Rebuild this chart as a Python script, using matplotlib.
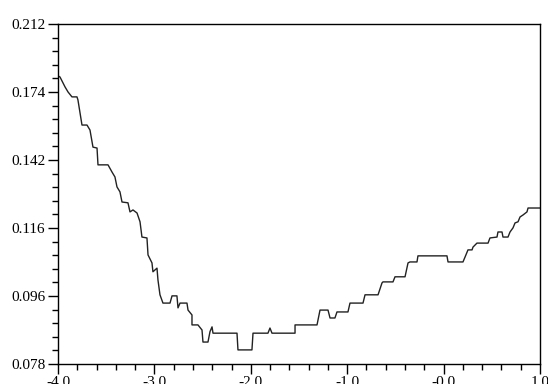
import numpy as np
import matplotlib
matplotlib.use("Agg")
import matplotlib.pyplot as plt
from matplotlib.ticker import FixedLocator, NullFormatter

# data
log_lambda = [-4.000, -3.979, -3.927, -3.896, -3.855, -3.803, -3.793, -3.751, -3.699, -3.668,
              -3.637, -3.595, -3.585, -3.481, -3.440, -3.409, -3.388, -3.357, -3.336, -3.274,
              -3.253, -3.222, -3.180, -3.149, -3.129, -3.077, -3.066, -3.025, -3.015, -2.973,
              -2.963, -2.942, -2.911, -2.838, -2.817, -2.766, -2.755, -2.734, -2.662, -2.651,
              -2.610, -2.610, -2.548, -2.506, -2.496, -2.444, -2.423, -2.402, -2.392, -2.143,
              -2.133, -1.988, -1.977, -1.822, -1.801, -1.780, -1.541, -1.541, -1.313, -1.282,
              -1.199, -1.178, -1.127, -1.106, -0.992, -0.971, -0.836, -0.815, -0.680, -0.639,
              -0.629, -0.525, -0.504, -0.400, -0.369, -0.349, -0.276, -0.266, 0.035, 0.046,
              0.201, 0.222, 0.253, 0.295, 0.305, 0.346, 0.461, 0.481, 0.554, 0.564,
              0.606, 0.616, 0.668, 0.689, 0.720, 0.741, 0.772, 0.793, 0.824, 0.865,
              0.876, 1.000]
error = [0.1820, 0.1814, 0.1762, 0.1736, 0.1711, 0.1711, 0.1696, 0.1575, 0.1575, 0.1552,
         0.1476, 0.1472, 0.1401, 0.1401, 0.1372, 0.1352, 0.1313, 0.1294, 0.1256, 0.1253,
         0.1220, 0.1227, 0.1216, 0.1185, 0.1133, 0.1130, 0.1075, 0.1050, 0.1023, 0.1034,
         0.0999, 0.0956, 0.0933, 0.0933, 0.0953, 0.0953, 0.0920, 0.0933, 0.0933, 0.0914,
         0.0901, 0.0875, 0.0875, 0.0862, 0.0832, 0.0832, 0.0858, 0.0870, 0.0854, 0.0854,
         0.0813, 0.0813, 0.0854, 0.0854, 0.0867, 0.0854, 0.0854, 0.0875, 0.0875, 0.0914,
         0.0914, 0.0893, 0.0893, 0.0909, 0.0909, 0.0933, 0.0933, 0.0956, 0.0956, 0.0990,
         0.0993, 0.0993, 0.1008, 0.1008, 0.1050, 0.1053, 0.1053, 0.1072, 0.1072, 0.1053,
         0.1053, 0.1068, 0.1091, 0.1091, 0.1100, 0.1113, 0.1113, 0.1130, 0.1133, 0.1150,
         0.1150, 0.1133, 0.1133, 0.1150, 0.1164, 0.1181, 0.1185, 0.1202, 0.1209, 0.1220,
         0.1234, 0.1234]

x_ticks = [-4.0, -3.0, -2.0, -1.0, 0.0, 1.0]
x_labels = ['-4.0', '-3.0', '-2.0', '-1.0', '-0.0', '1.0']
y_labels = ['0.078', '0.096', '0.116', '0.142', '0.174', '0.212']
y_min, y_max = 0.078, 0.212

plt.rcParams['font.family'] = ['Liberation Serif', 'DejaVu Serif']

fig = plt.figure(figsize=(5.48, 3.84), dpi=100)
ax = fig.add_axes([0.1058, 0.0521, 0.8796, 0.8854])

ax.plot(log_lambda, error, color='#222222', linewidth=1.0)

ax.set_yscale('log')
ax.set_ylim(y_min, y_max)
ax.set_xlim(-4.0, 1.0)

# evenly spaced ticks on the log axis
y_major = np.geomspace(y_min, y_max, len(y_labels))
y_minor = np.geomspace(y_min, y_max, 5 * (len(y_labels) - 1) + 1)
ax.yaxis.set_major_locator(FixedLocator(y_major))
ax.yaxis.set_minor_locator(FixedLocator(y_minor))
ax.set_yticklabels(y_labels)
ax.yaxis.set_minor_formatter(NullFormatter())

ax.set_xticks(x_ticks)
ax.set_xticklabels(x_labels)
ax.set_xticks(np.arange(-4.0, 1.01, 0.2), minor=True)

ax.tick_params(which='both', direction='out', top=False, right=False,
               labelsize=11, width=1.0, color='black')
ax.tick_params(which='major', length=7, pad=2)
ax.tick_params(which='minor', length=4)

for s in ax.spines.values():
    s.set_linewidth(1.0)
    s.set_color('black')

fig.savefig('out.png', dpi=100)
